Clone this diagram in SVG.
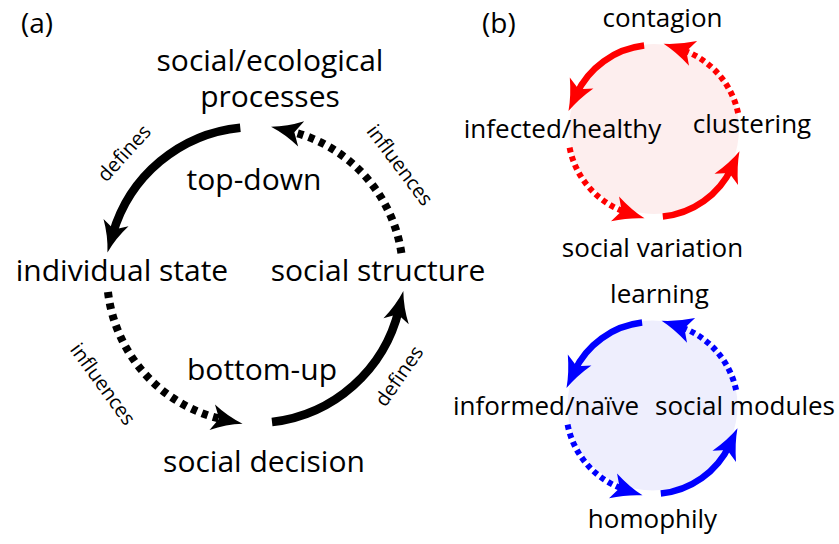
<svg xmlns="http://www.w3.org/2000/svg" width="839" height="544" viewBox="0 0 839 544">
<style>
text{font-family:"Open Sans","Noto Sans","DejaVu Sans",sans-serif;fill:#000}
.big{font-size:30px;text-anchor:middle}
.sm{font-size:20px;text-anchor:middle}
.b{font-size:26px;text-anchor:middle}
.lbl{font-size:28px}
.arc{fill:none}
.ka{stroke:#000;stroke-width:8.5}
.kd{stroke:#000;stroke-width:8;stroke-dasharray:6 5.5}
.ra{stroke:#ff0000;stroke-width:6.5}
.rd{stroke:#ff0000;stroke-width:6;stroke-dasharray:5 4}
.ba{stroke:#0000ff;stroke-width:6.5}
.bd{stroke:#0000ff;stroke-width:6;stroke-dasharray:5 4}
</style>
<defs>
<marker id="hk" markerUnits="userSpaceOnUse" orient="auto" refX="0" refY="0" markerWidth="1" markerHeight="1" overflow="visible">
<path d="M19,0 Q3,-4 -12,-13 L-5,0 L-12,13 Q3,4 19,0 Z" fill="#000"/>
</marker>
<marker id="hr" markerUnits="userSpaceOnUse" orient="auto" refX="0" refY="0" markerWidth="1" markerHeight="1" overflow="visible">
<path d="M18,0 Q3,-4 -13,-13 L-6,0 L-13,13 Q3,4 18,0 Z" fill="#ff0000"/>
</marker>
<marker id="hb" markerUnits="userSpaceOnUse" orient="auto" refX="0" refY="0" markerWidth="1" markerHeight="1" overflow="visible">
<path d="M18,0 Q3,-4 -13,-13 L-6,0 L-13,13 Q3,4 18,0 Z" fill="#0000ff"/>
</marker>
</defs>

<g id="backgrounds">
<circle cx="654" cy="129" r="85" fill="#fdeeee"/>
<circle cx="652.5" cy="405.5" r="85" fill="#eeeefd"/>
</g>

<g id="connectors">
<path class="arc ka" d="M240.3,127.7 A148,148 0 0 0 112.7,234.2" marker-end="url(#hk)"/>
<path class="arc kd" d="M401.4,253.1 A148,148 0 0 0 289.5,131.1" marker-end="url(#hk)"/>
<path class="arc kd" d="M108,292 A148,148 0 0 0 224,419.7" marker-end="url(#hk)"/>
<path class="arc ka" d="M272,422 A148,148 0 0 0 398.9,309.5" marker-end="url(#hk)"/>

<path class="arc ra" d="M644.1,45.6 A86,86 0 0 0 576.1,94.7" marker-end="url(#hr)"/>
<path class="arc rd" d="M738.1,113 A86,86 0 0 0 680.7,49.3" marker-end="url(#hr)"/>
<path class="arc rd" d="M569.6,147.7 A86,86 0 0 0 627.4,212.8" marker-end="url(#hr)"/>
<path class="arc ra" d="M662.8,216.5 A86,86 0 0 0 731.8,167.6" marker-end="url(#hr)"/>

<path class="arc ba" d="M642.1,322.6 A86,86 0 0 0 574.1,371.7" marker-end="url(#hb)"/>
<path class="arc bd" d="M736.1,390 A86,86 0 0 0 678.7,326.3" marker-end="url(#hb)"/>
<path class="arc bd" d="M567.6,424.7 A86,86 0 0 0 625.4,489.8" marker-end="url(#hb)"/>
<path class="arc ba" d="M660.8,493.5 A86,86 0 0 0 729.8,444.6" marker-end="url(#hb)"/>
</g>

<g id="edge-labels">
<text class="sm" transform="translate(124,153) rotate(-48)" y="7">defines</text>
<text class="sm" transform="translate(400,165) rotate(53)" y="7">influences</text>
<text class="sm" transform="translate(103,384) rotate(54)" y="7">influences</text>
<text class="sm" transform="translate(399,376) rotate(-55)" y="7">defines</text>
<text class="big" x="254" y="190">top-down</text>
<text class="big" x="262" y="380">bottom-up</text>
</g>

<g id="panel-labels">
<text class="lbl" x="21" y="33">(a)</text>
<text class="lbl" x="482" y="33">(b)</text>
</g>

<g id="node-processes"><text class="big" x="270" y="71">social/ecological</text><text class="big" x="270" y="107">processes</text></g>
<g id="node-individual-state"><text class="big" x="122" y="281">individual state</text></g>
<g id="node-social-structure"><text class="big" x="378" y="281">social structure</text></g>
<g id="node-social-decision"><text class="big" x="264" y="472">social decision</text></g>

<g id="node-contagion"><text class="b" x="662.5" y="27">contagion</text></g>
<g id="node-infected"><text class="b" x="562.5" y="138">infected/healthy</text></g>
<g id="node-clustering"><text class="b" x="752" y="133">clustering</text></g>
<g id="node-social-variation"><text class="b" x="652.5" y="257">social variation</text></g>

<g id="node-learning"><text class="b" x="659.5" y="303">learning</text></g>
<g id="node-informed"><text class="b" x="546" y="415">informed/naïve</text></g>
<g id="node-social-modules"><text class="b" x="745" y="415">social modules</text></g>
<g id="node-homophily"><text class="b" x="652.5" y="528">homophily</text></g>
</svg>
